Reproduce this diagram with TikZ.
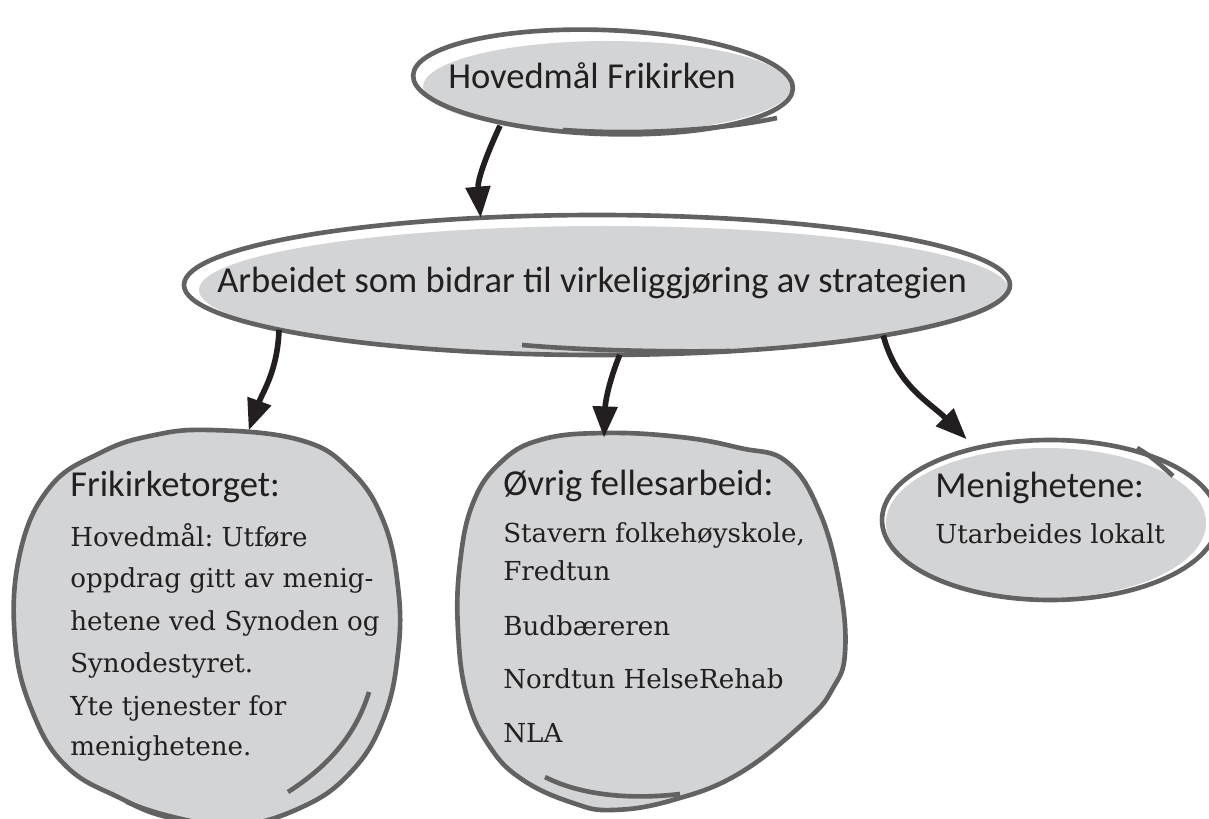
\documentclass[tikz,border=0pt]{standalone}
\usepackage{fontspec}
\setmainfont{Carlito}
\newfontfamily\serifbody{DejaVu Serif}
\usetikzlibrary{arrows.meta,shapes.geometric}
\definecolor{blobfill}{HTML}{D3D4D6}
\definecolor{blobline}{HTML}{626262}
\definecolor{ink}{HTML}{231F20}
\frenchspacing
\begin{document}
\begin{tikzpicture}[x=0.025cm,y=-0.025cm,
  outline/.style={draw=blobline, line width=3.3pt},
  head/.style={anchor=base west, inner sep=0, text=ink, font=\fontsize{26}{30}\selectfont},
  bighead/.style={anchor=base west, inner sep=0, text=ink, font=\fontsize{26}{30}\selectfont},
  body/.style={anchor=base west, inner sep=0, text=ink, font=\serifbody\fontsize{18.6}{22}\selectfont},
  conn/.style={draw=ink, line width=4pt, -{Triangle[length=0.78cm,width=0.6cm]}},
  holder/.style={ellipse, inner sep=0pt, outer sep=0pt, draw=none}]
\useasboundingbox (0,0) rectangle (1209,819);
\clip (0,0) rectangle (1209,819);

% ---------- top ellipse
\node[holder, minimum width=9.5cm, minimum height=2.6cm] (top) at (603,82) {};
\fill[blobfill] (607,87) ellipse [x radius=184, y radius=46];
\draw[outline, rotate around={-2:(top.center)}] (top.center) ellipse [x radius=190, y radius=52];
\draw[outline] (563,130) .. controls (650,136) and (730,128) .. (777,118);
\node[bighead] (ttop) at (448,89) {Hovedmål Frikirken};

% ---------- middle ellipse
\node[holder, minimum width=20.65cm, minimum height=3.5cm] (mid) at (597,285) {};
\fill[blobfill] (604,290) ellipse [x radius=405, y radius=64];
\draw[outline] (mid.center) ellipse [x radius=413, y radius=70];
\draw[outline] (522,345) .. controls (590,351) and (680,352) .. (730,351);
\node[head] (tmid) at (217,293) {Arbeidet som bidrar til virkeliggjøring av strategien};

% ---------- left blob
\node[holder, minimum width=9.6cm, minimum height=9.8cm] (fri) at (208,622) {};
\filldraw[outline, fill=blobfill] plot[smooth cycle, tension=0.7] coordinates {
  (210,430) (300,440) (350,470) (383,520) (398,587) (398,653) (383,720)
  (350,773) (300,808) (233,826) (167,817) (120,798) (67,767) (33,713)
  (15,640) (20,553) (50,487) (100,453) (150,436)};
\draw[outline] (369,692) .. controls (358,728) and (335,762) .. (288,792);
\draw[outline] (127,802) .. controls (150,812) and (175,818) .. (205,824);
\node[head] (fh) at (70,496) {Frikirketorget:};
\node[body] (f1) at (70,546) {Hovedmål: Utføre};
\node[body] (f2) at (70,587) {oppdrag gitt av menig-};
\node[body] (f3) at (70,630) {hetene ved Synoden og};
\node[body] (f4) at (70,672) {Synodestyret.};
\node[body] (f5) at (70,715) {Yte tjenester for};
\node[body] (f6) at (70,755) {menighetene.};

% ---------- middle blob
\node[holder, minimum width=9.5cm, minimum height=9.5cm] (ovr) at (650,622) {};
\filldraw[outline, fill=blobfill] plot[smooth cycle, tension=0.7] coordinates {
  (603,433) (680,437) (740,448) (787,462) (820,513) (840,587) (845,653)
  (833,688) (807,720) (740,773) (673,800) (613,810) (573,803) (523,780)
  (490,747) (467,697) (458,630) (460,563) (473,503) (500,463) (540,440)};
\draw[outline] (545,777) .. controls (580,795) and (630,800) .. (680,794);
\node[head] (oh) at (503,495) {Øvrig fellesarbeid:};
\node[body] (o1) at (503,542) {Stavern folkehøyskole,};
\node[body] (o2) at (503,580) {Fredtun};
\node[body] (o3) at (503,635) {Budbæreren};
\node[body] (o4) at (503,688) {Nordtun HelseRehab};
\node[body] (o5) at (503,742) {NLA};

% ---------- right ellipse
\node[holder, minimum width=8.4cm, minimum height=4cm] (men) at (1050,520) {};
\fill[blobfill] (1046,523) ellipse [x radius=160, y radius=75];
\draw[outline] (men.center) ellipse [x radius=168, y radius=80];
\draw[outline] (1137,448) .. controls (1150,455) and (1162,466) .. (1173,476);
\node[head] (mh) at (935,497) {Menighetene:};
\node[body] (m1) at (935,543) {Utarbeides lokalt};

% ---------- connectors
\draw[conn] (top.203) to[out=245,in=95] (mid.150.6);
\draw[conn] (mid.188.5) to[out=268,in=70] (fri.78.4);
\draw[conn] (mid.288) to[out=248,in=88] (ovr.104.3);
\draw[conn] (mid.350.3) to[out=285,in=135] ([shift={(-9,-9)}]men.136);
\end{tikzpicture}
\end{document}
